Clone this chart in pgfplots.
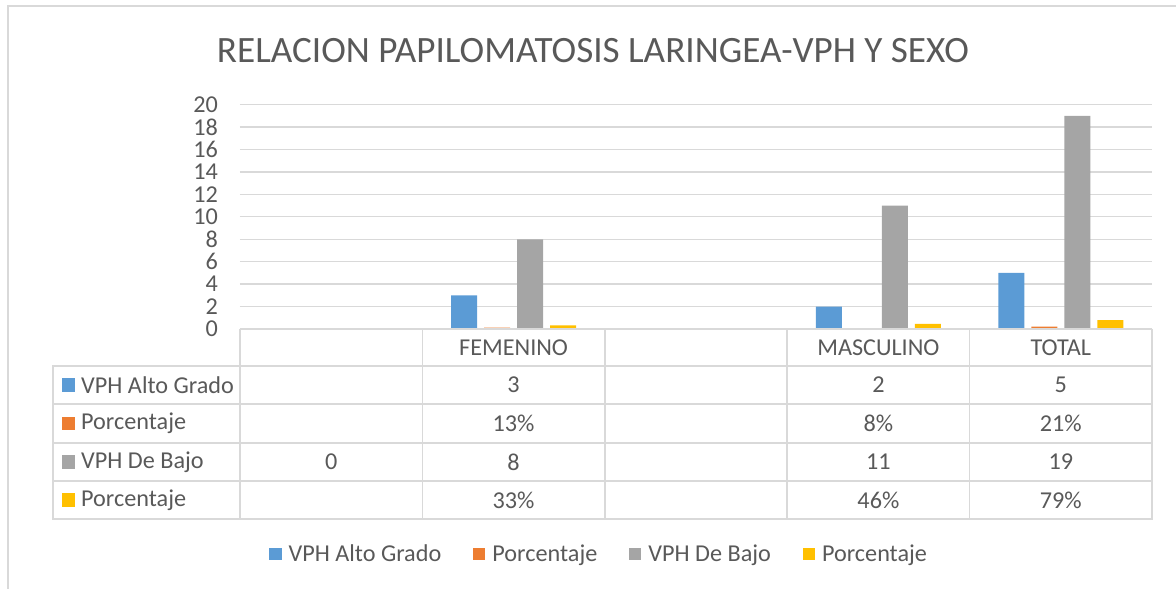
\documentclass[border=0pt]{standalone}
\usepackage{pgfplots}
\pgfplotsset{compat=1.18}
\usepackage{fontspec}
\setmainfont{Carlito}
\definecolor{sblue}{HTML}{5B9BD5}
\definecolor{sorange}{HTML}{ED7D31}
\definecolor{sgray}{HTML}{A5A5A5}
\definecolor{syellow}{HTML}{FFC000}
\definecolor{txt}{HTML}{595959}
\definecolor{lgrid}{HTML}{D9D9D9}
\newcommand{\tfont}{\fontsize{24.3}{28}\selectfont}

\begin{document}
\begin{tikzpicture}[x=1bp,y=1bp]
% page: 1176 x 589, origin at left end of the baseline (240,329)
\useasboundingbox (-240,-260) rectangle (936,329);
\draw[lgrid, line width=1.5bp] (-232,-260) -- (-232,323) -- (936,323);

\begin{axis}[
  at={(0,0)}, anchor=south west,
  scale only axis,
  width=912bp, height=224.3bp,
  xmin=-0.5, xmax=4.5,
  ymin=0, ymax=20,
  ytick={0,2,...,20},
  xtick=\empty,
  ybar=7bp, bar width=26bp,
  axis line style={draw=none},
  major tick length=0pt,
  /pgf/number format/assume math mode=true,
  ymajorgrids, grid style={lgrid, line width=1.3bp},
  yticklabel style={font=\tfont, text=txt, inner sep=0pt, xshift=-22bp},
  clip=false,
  legend style={at={(358bp,-225bp)}, anchor=center, draw=none, fill=none,
    font=\tfont, text=txt, legend columns=4,
    nodes={inner sep=0pt},
    /tikz/every odd column/.append style={column sep=7bp},
    /tikz/every even column/.append style={column sep=31.6bp}},
  legend image code/.code={\fill (0bp,-6.25bp) rectangle (12.5bp,6.25bp);},
]
\addplot[fill=sblue, draw=none] coordinates {(1,3) (3,2) (4,5)};
\addplot[fill=sorange, draw=none] coordinates {(1,0.13) (3,0.08) (4,0.21)};
\addplot[fill=sgray, draw=none] coordinates {(0,0) (1,8) (3,11) (4,19)};
\addplot[fill=syellow, draw=none] coordinates {(1,0.33) (3,0.46) (4,0.79)};
\legend{VPH Alto Grado, Porcentaje, VPH De Bajo, Porcentaje}
\end{axis}

% data table
\begin{scope}[lgrid, line width=1.5bp]
  \draw (0,0) -- (912,0);
  \draw (0,-37) -- (912,-37);
  \draw (-187,-37) rectangle (912,-190);
  \foreach \yy in {-75,-114,-152} \draw (-187,\yy) -- (912,\yy);
  \foreach \xx in {0,182.4,364.8,547.2,729.6,912} \draw (\xx,0) -- (\xx,-190);
\end{scope}
\begin{scope}[font=\tfont, text=txt]
  \node at (273.6,-18.5) {FEMENINO};
  \node at (638.4,-18.5) {MASCULINO};
  \node at (820.8,-18.5) {TOTAL};
  % row labels with keys
  \fill[sblue]   (-178,-63) rectangle (-164.5,-49.5);
  \fill[sorange] (-178,-101.5) rectangle (-164.5,-88);
  \fill[sgray]   (-178,-140) rectangle (-164.5,-126.5);
  \fill[syellow] (-178,-178) rectangle (-164.5,-164.5);
  \node[anchor=west, inner sep=0pt] at (-159,-56) {VPH Alto Grado};
  \node[anchor=west, inner sep=0pt] at (-159,-94.5) {Porcentaje};
  \node[anchor=west, inner sep=0pt] at (-159,-133) {VPH De Bajo};
  \node[anchor=west, inner sep=0pt] at (-159,-171) {Porcentaje};
  % values
  \node at (273.6,-56) {3};   \node at (638.4,-56) {2};    \node at (820.8,-56) {5};
  \node at (273.6,-94.5) {13\%}; \node at (638.4,-94.5) {8\%}; \node at (820.8,-94.5) {21\%};
  \node at (91.2,-133) {0};
  \node at (273.6,-133) {8};   \node at (638.4,-133) {11};  \node at (820.8,-133) {19};
  \node at (273.6,-171) {33\%}; \node at (638.4,-171) {46\%}; \node at (820.8,-171) {79\%};
\end{scope}
\node[font=\fontsize{37.3}{42}\selectfont, text=txt] at (353,278.5) {RELACION PAPILOMATOSIS LARINGEA-VPH Y SEXO};
\end{tikzpicture}
\end{document}
